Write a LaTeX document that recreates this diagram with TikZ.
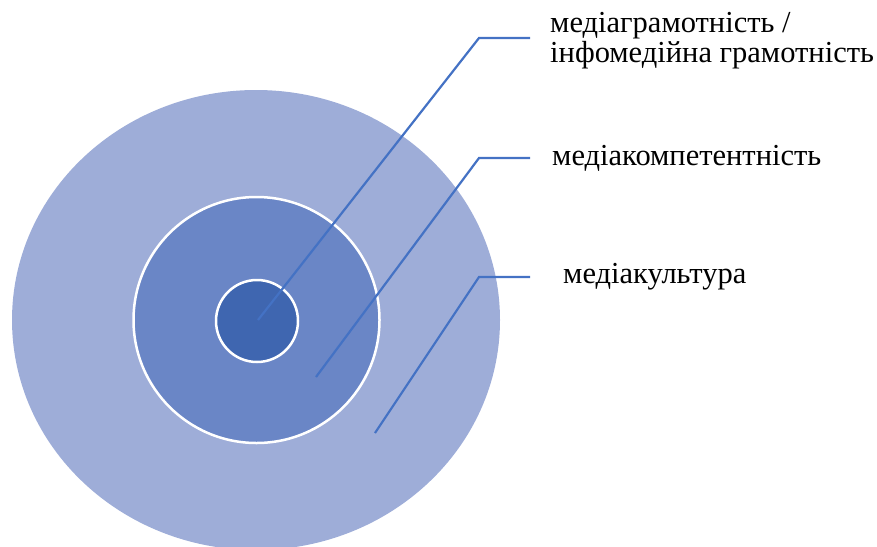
\documentclass[tikz,border=0pt]{standalone}
\usepackage{fontspec}
\setmainfont{Liberation Serif}
\newfontfamily\labelfont{Liberation Serif}

\definecolor{ringouter}{HTML}{9EADD8}
\definecolor{ringmiddle}{HTML}{6A86C6}
\definecolor{ringinner}{HTML}{3F66B0}
\definecolor{leader}{HTML}{4472C4}

\tikzset{
    ring/.style={draw=white, line width=2.5pt},
    leaderline/.style={leader, line width=2.2pt},
    label/.style={anchor=base west, inner sep=0pt, align=left,
        font=\labelfont\fontsize{30.5}{29.5}\selectfont}
}

\begin{document}
\begin{tikzpicture}[x=1pt,y=-1pt]

    \useasboundingbox (0,0) rectangle (877,546);
    \clip (0,0) rectangle (877,546);

    % nested rings
    \fill[ringouter] (256,320) ellipse (244 and 230);
    \filldraw[ring, fill=ringmiddle] (256.5,320) circle (123);
    \filldraw[ring, fill=ringinner] (257,321) circle (41);

    % leader line ends
    \coordinate (inner end) at (258,320);
    \coordinate (middle end) at (316,377);
    \coordinate (outer end) at (375,433);
    \coordinate (inner knee) at (479,38);
    \coordinate (middle knee) at (479,158);
    \coordinate (outer knee) at (479,277);
    \coordinate (inner tip) at (530,38);
    \coordinate (middle tip) at (530,158);
    \coordinate (outer tip) at (530,277);

    % labels (base of the last line)
    \node[label] (literacy) at (550,62) {медіаграмотність /\\інфомедійна грамотність};
    \node[label] (competence) at (552,165) {медіакомпетентність};
    \node[label] (culture) at (563,283) {медіакультура};

    % leader lines
    \foreach \ring in {inner,middle,outer}
        \draw[leaderline] (\ring\space end) -- (\ring\space knee) -- (\ring\space tip);

\end{tikzpicture}
\end{document}
